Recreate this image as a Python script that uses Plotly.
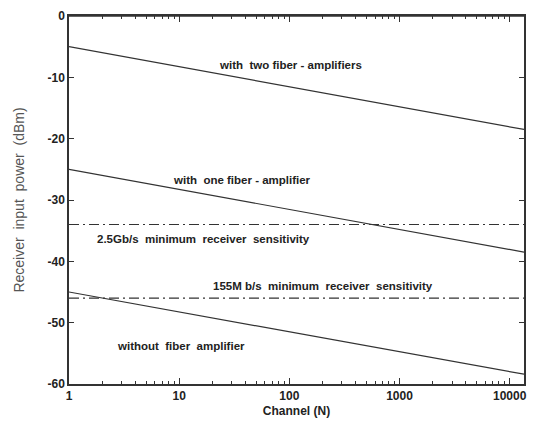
import math
import plotly.graph_objects as go

channels = [1, 13500]
two_amp = [-5, -18.5]
one_amp = [-25, -38.5]
no_amp = [-45, -58.4]
sens_25g = [-34, -34]
sens_155m = [-46, -46]

x_ticks = [1, 10, 100, 1000, 10000]
x_tick_labels = ["1", "10", "100", "1000", "10000"]
y_ticks = [0, -10, -20, -30, -40, -50, -60]
x_minor = [m * d for d in (1, 10, 100, 1000) for m in range(2, 10)] + [20000]

fig = go.Figure()
line = dict(color="#333333", width=1.2)
for ys in (two_amp, one_amp, no_amp):
    fig.add_trace(go.Scatter(x=channels, y=ys, mode="lines", line=line, showlegend=False))
for ys in (sens_25g, sens_155m):
    fig.add_trace(go.Scatter(x=channels, y=ys, mode="lines",
                             line=dict(color="#333333", width=1.1, dash="10px,4px,2px,4px"),
                             showlegend=False))
# invisible trace on the minor-tick axis so it gets drawn
fig.add_trace(go.Scatter(x=channels, y=two_amp, mode="lines", line=dict(width=0),
                         xaxis="x2", showlegend=False, hoverinfo="skip", opacity=0))

annots = [
    ("with  two fiber - amplifiers", 290, -8),
    ("with  one fiber - amplifier", 242, -26.8),
    ("2.5Gb/s  minimum  receiver  sensitivity", 203, -36.4),
    ("155M b/s  minimum  receiver  sensitivity", 323, -44.1),
    ("without  fiber  amplifier", 181, -53.8),
]
xr = [0, math.log10(13500)]
left, right = 69, 524
for txt, px, yv in annots:
    xl = xr[0] + (px - left) / (right - left) * (xr[1] - xr[0])
    fig.add_annotation(x=xl, y=yv, text=f"<b>{txt}</b>", showarrow=False,
                       font=dict(family="Liberation Sans", size=11.5, color="#222222"),
                       xanchor="center", yanchor="middle")

fig.add_shape(type="line", xref="paper", yref="paper", x0=0, x1=1, y0=1, y1=1,
              line=dict(color="#333333", width=1.5))

axis_common = dict(showline=True, linecolor="#333333", linewidth=1.5, mirror="ticks",
                   ticks="inside", tickcolor="#333333", showgrid=False, zeroline=False,
                   automargin=False, ticklabeloverflow="allow",
                   tickfont=dict(family="Liberation Sans", size=12, color="#222222"))
fig.update_xaxes(type="log", range=xr, tickvals=x_ticks, ticktext=[f"<b>{t}</b>" for t in x_tick_labels],
                 ticklen=6,
                 title=dict(text="<b>Channel (N)</b>", font=dict(family="Liberation Sans", size=12, color="#222222"), standoff=4),
                 **axis_common)
fig.update_layout(xaxis2=dict(type="log", range=xr, overlaying="x", side="bottom", anchor="y",
                              tickmode="array", tickvals=x_minor, showticklabels=False,
                              ticks="inside", ticklen=3, tickcolor="#333333", mirror="ticks",
                              showline=True, linecolor="#333333", linewidth=1.5,
                              showgrid=False, zeroline=False, automargin=False))
fig.update_yaxes(range=[-60, 0], tickvals=y_ticks, ticktext=[f"<b>{t}</b>" for t in y_ticks],
                 ticklen=5,
                 title=dict(text="Receiver  input  power  (dBm)", font=dict(family="Liberation Sans", size=14, color="#555555"), standoff=20),
                 **axis_common)
fig.update_layout(width=535, height=427, margin=dict(l=61, r=19, t=8, b=51),
                  plot_bgcolor="white", paper_bgcolor="white")
fig.write_html("out.html")
